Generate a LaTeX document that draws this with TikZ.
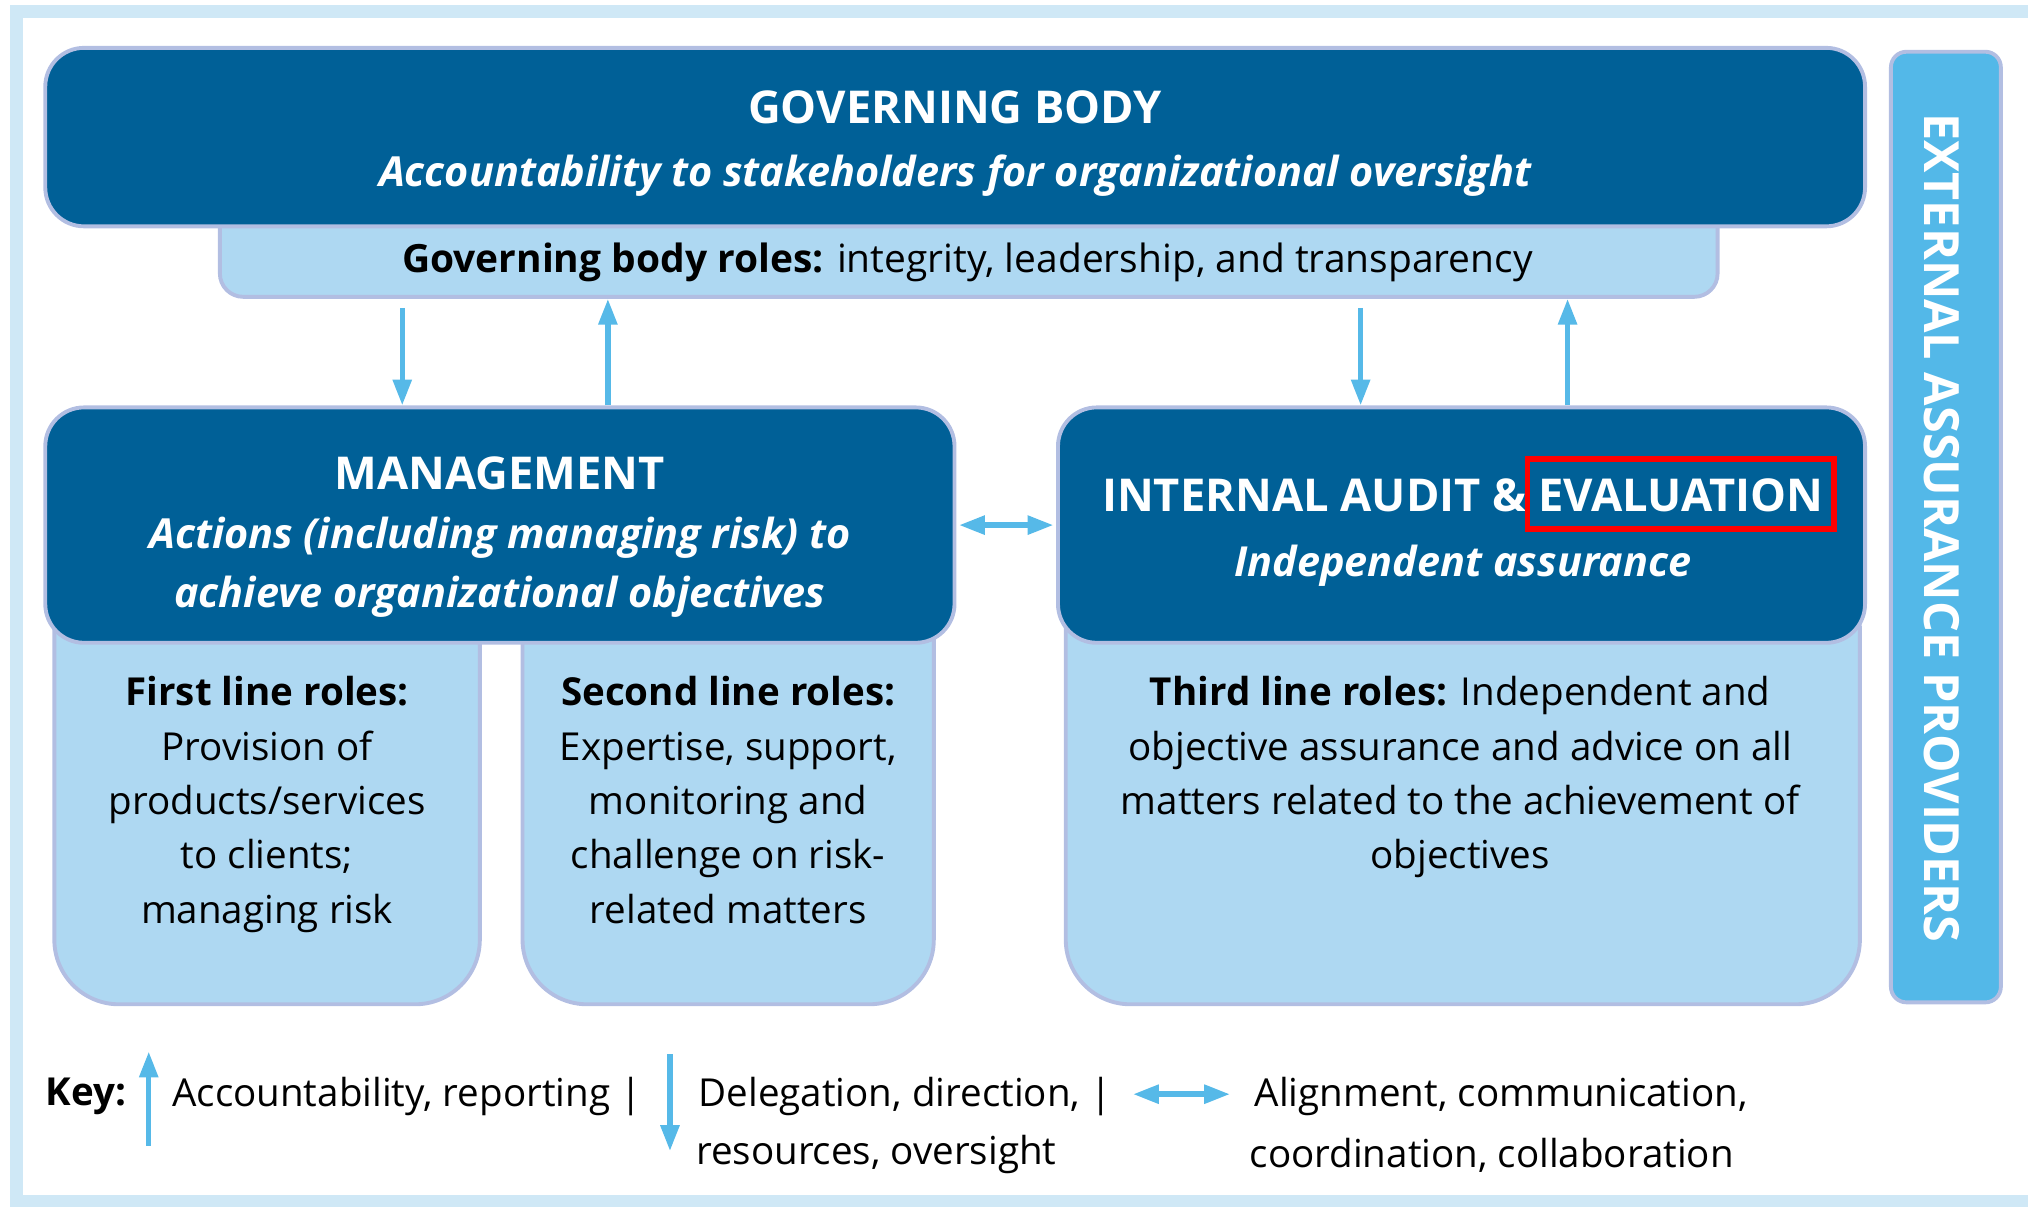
\documentclass[tikz,border=0pt]{standalone}
\usepackage{fontspec}
\setmainfont{Open Sans}
\usetikzlibrary{arrows.meta,positioning}
\definecolor{govblue}{RGB}{0,96,151}
\definecolor{rolefill}{RGB}{174,216,242}
\definecolor{edgeline}{RGB}{178,190,226}
\definecolor{arrowblue}{RGB}{86,185,232}
\definecolor{extfill}{RGB}{83,184,232}
\definecolor{framefill}{RGB}{207,232,246}
\newcommand{\subline}[1]{{\fontsize{32}{45}\selectfont\bfseries\itshape #1}}
\begin{document}
\begin{tikzpicture}[x=1pt,y=-1pt] % 1pt = 1px
\tikzstyle{darkbox} = [draw=edgeline, line width=3pt, fill=govblue, rounded corners=30pt, inner sep=0pt] % dark header box
\tikzstyle{lightbox} = [draw=edgeline, line width=3pt, fill=rolefill, rounded corners=50pt, inner sep=0pt] % roles box
\tikzstyle{headtext} = [text=white, align=center, font=\fontsize{35}{45}\selectfont] % text in dark boxes
\tikzstyle{roletext} = [align=center, inner sep=0pt, font=\fontsize{29.8}{42}\selectfont] % text in roles boxes
\tikzstyle{uparrow} = [arrowblue, line width=4.2pt, -{Triangle[width=14pt,length=20pt]}] % accountability
\tikzstyle{twoway} = [arrowblue, line width=4.2pt, {Triangle[width=14pt,length=20pt]}-{Triangle[width=14pt,length=20pt]}] % alignment
\useasboundingbox (0,0) rectangle (1568,933);
\draw[framefill, line width=10pt] (13,9) rectangle (1600,929); % рамка

% governing body
\node[lightbox, rounded corners=18pt, minimum width=1158pt, minimum height=90pt, anchor=south] (gbroles) at (749,231) {};
\node[darkbox, minimum width=1407pt, minimum height=138pt] (gb) at (738.5,106) {};
\node[headtext] (gbtxt) at (738.5,111) {\textbf{GOVERNING BODY}\\[4pt] \subline{Accountability to stakeholders for organizational oversight}};
\node[roletext, font=\fontsize{30.1}{42}\selectfont] (gbrolestxt) at (748,203) {\textbf{Governing body roles:} integrity, leadership, and transparency};

% roles boxes
\node[lightbox, minimum width=329pt, minimum height=340pt, anchor=south] (first) at (206.5,778) {};
\node[lightbox, minimum width=318pt, minimum height=340pt, anchor=south] (second) at (563,778) {};
\node[lightbox, minimum width=614pt, minimum height=340pt, anchor=south] (third) at (1131,778) {};

% management & internal audit
\node[darkbox, minimum width=703pt, minimum height=182pt] (mgmt) at (386.5,406) {};
\node[headtext] (mgmttxt) at (386.5,415) {\textbf{MANAGEMENT}\\[1pt] \subline{Actions (including managing risk) to}\\ \subline{achieve organizational objectives}};
\node[darkbox, minimum width=624pt, minimum height=182pt] (ia) at (1130,406) {};
\node[headtext] (iatxt) at (1131,412) {\textbf{INTERNAL AUDIT \& EVALUATION}\\[5pt] \subline{Independent assurance}};
\node[draw=red, line width=4.5pt, minimum width=237pt, minimum height=54pt] (hl) at (1299.5,382) {}; % выделение

\node[roletext, anchor=north] (firsttxt) at (first.north |- 0,523) {\textbf{First line roles:}\\ Provision of\\ products/services\\ to clients;\\ managing risk};
\node[roletext, anchor=north] (secondtxt) at (second.north |- 0,523) {\textbf{Second line roles:}\\ Expertise, support,\\ monitoring and\\ challenge on risk-\\ related matters};
\node[roletext, anchor=north] (thirdtxt) at (1129,523) {\textbf{Third line roles:} Independent and\\ objective assurance and advice on all\\ matters related to the achievement of\\ objectives};

% external assurance
\node[fill=extfill, draw=edgeline, line width=3pt, rounded corners=12pt, minimum width=85pt, minimum height=735pt] (ext) at (1504.5,407.5) {};
\node[rotate=-90, text=white, font=\fontsize{37.5}{40}\selectfont\bfseries] (exttxt) at (1501,408) {EXTERNAL ASSURANCE PROVIDERS};

% стрелки
\draw[uparrow] (gbroles.south -| 311,0) ++(0,7) -- (mgmt.north -| 311,0);
\draw[uparrow] (mgmt.north -| 470,0) -- (gbroles.south -| 470,0);
\draw[uparrow] (gbroles.south -| 1052,0) ++(0,7) -- (ia.north -| 1052,0);
\draw[uparrow] (ia.north -| 1212,0) -- (gbroles.south -| 1212,0);
\draw[twoway] (mgmt.east) ++(2,0) -- ([xshift=-2pt]ia.west);

% key
\node[roletext, anchor=west] (key) at (35,848) {\textbf{Key:}};
\coordinate (upbot) at (115,886);
\coordinate (uptop) at (115,813);
\draw[uparrow] (upbot) -- (uptop);
\node[roletext, anchor=west] (keyup) at (133,848) {Accountability, reporting |};
\coordinate (downtop) at (518,815);
\coordinate (downbot) at (518,890);
\draw[uparrow] (downtop) -- (downbot);
\node[roletext, anchor=west] (keydown) at (540,848) {Delegation, direction, |};
\node[roletext, anchor=west] (keydown2) at (538,893) {resources, oversight};
\coordinate (twol) at (876,846);
\coordinate (twor) at (951,846);
\draw[twoway] (twol) -- (twor);
\node[roletext, anchor=west] (keytwo) at (970,848) {Alignment, communication,};
\node[roletext, anchor=west] (keytwo2) at (966,893) {coordination, collaboration};
\end{tikzpicture}
\end{document}
